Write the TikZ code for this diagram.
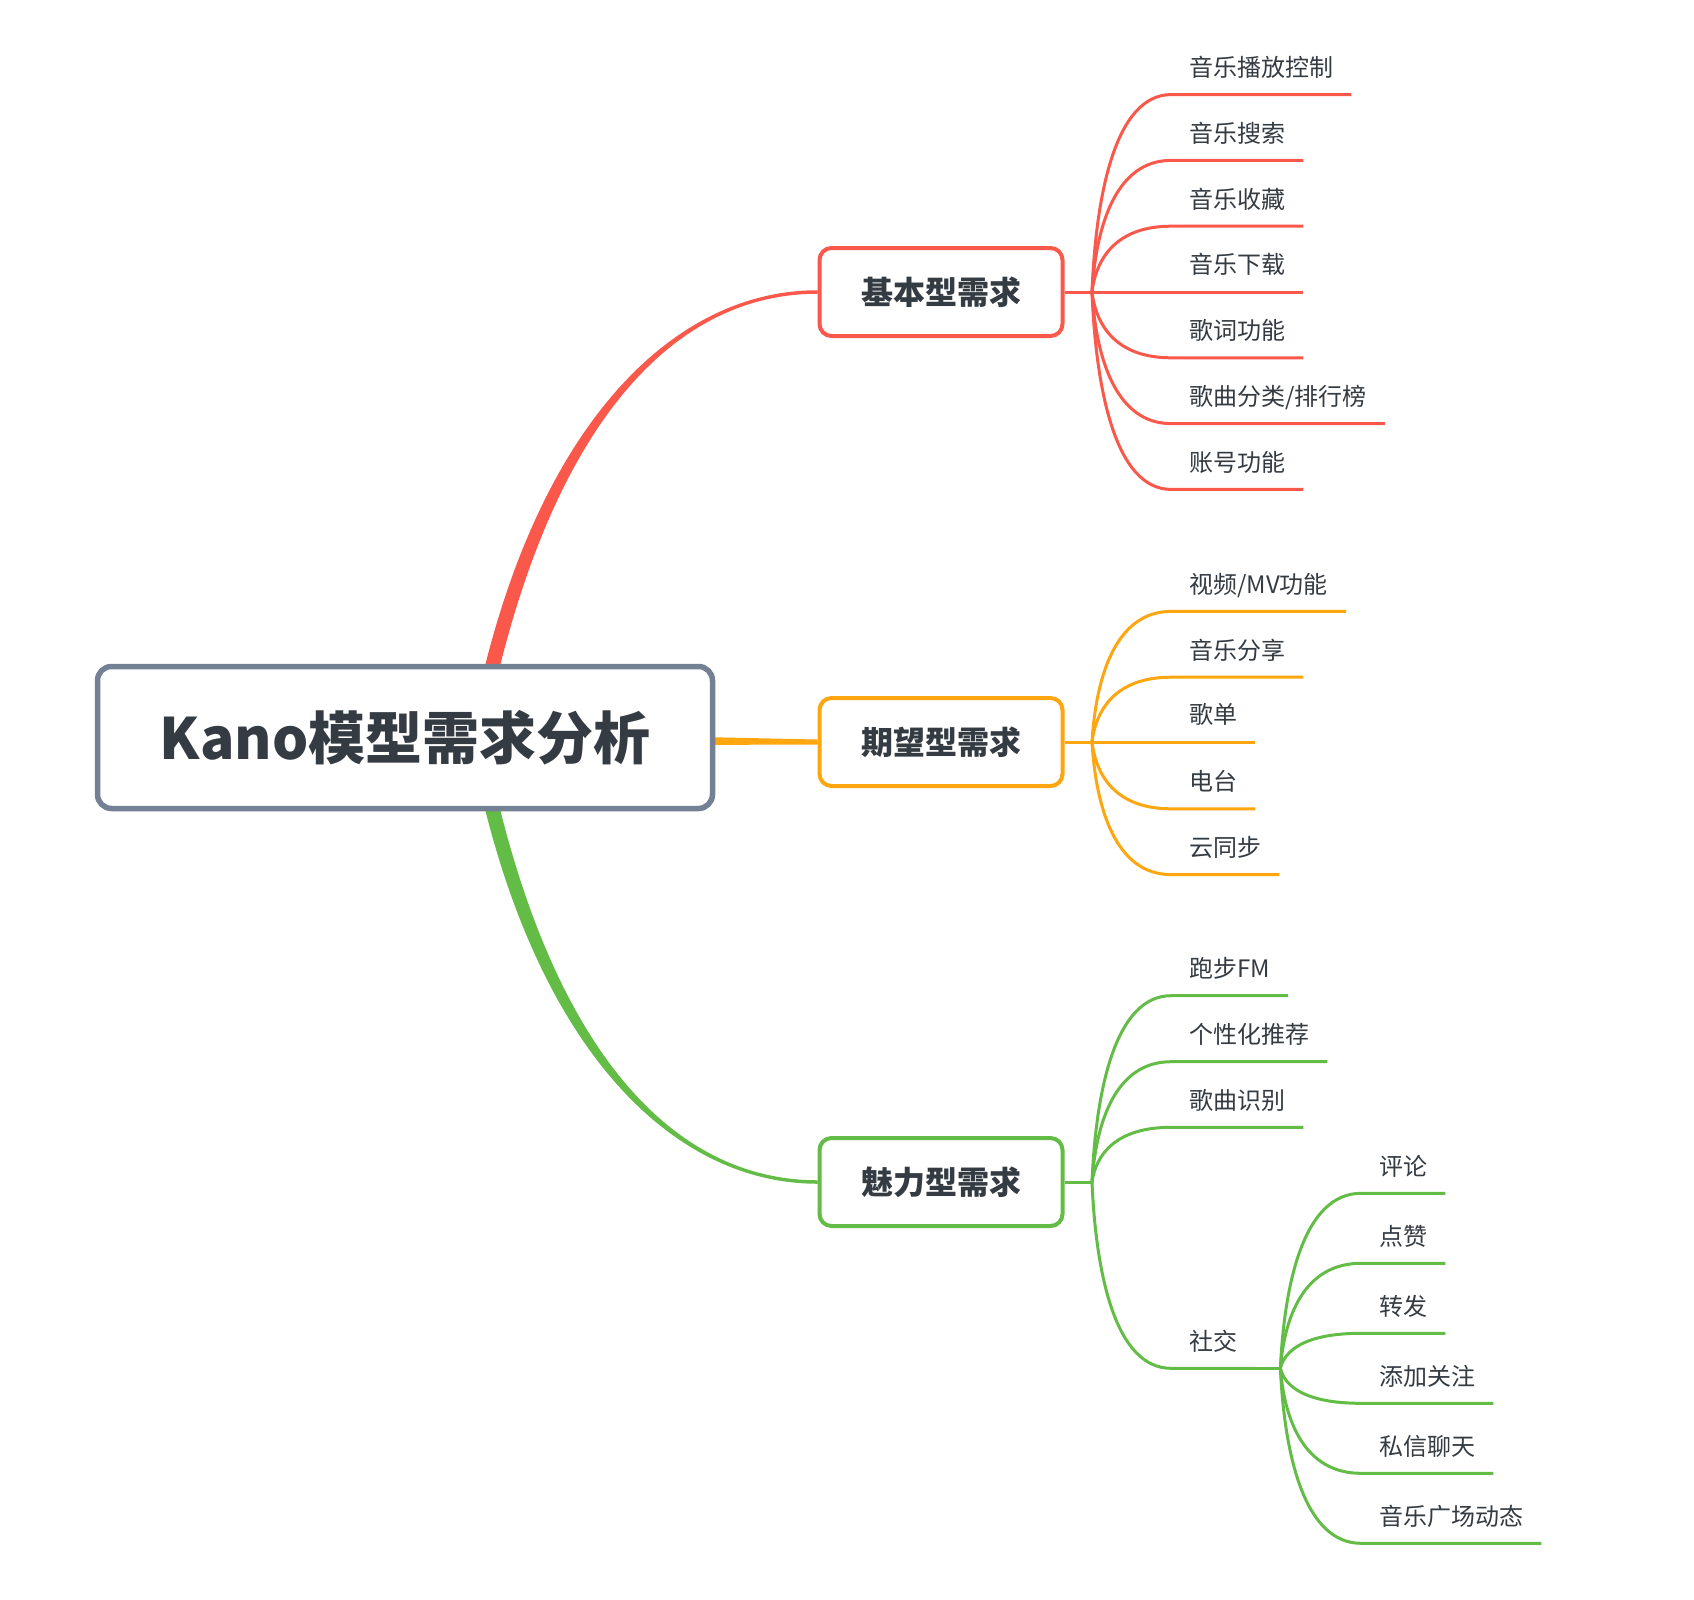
\documentclass[tikz,border=0pt]{standalone}
\usepackage{fontspec}
\setmainfont{Noto Sans CJK SC}
\usetikzlibrary{calc,backgrounds}
\definecolor{cred}{HTML}{FA584B}
\definecolor{corange}{HTML}{FDA60F}
\definecolor{cgreen}{HTML}{62BC46}
\definecolor{cgray}{HTML}{748093}
\definecolor{ctext}{HTML}{343B42}
\tikzset{
  rootbox/.style={draw=cgray, line width=5.5pt, fill=white, rounded corners=14pt,
    minimum width=615pt, minimum height=142pt, text=ctext,
    font=\fontsize{57}{60}\selectfont\bfseries, inner sep=0pt},
  topicbox/.style={line width=4pt, fill=white, rounded corners=12pt,
    minimum width=243pt, minimum height=88pt, text=ctext,
    font=\fontsize{32}{34}\selectfont\bfseries, inner sep=0pt},
  leaf/.style={anchor=south west, inner xsep=18pt, inner ysep=18pt,
    text height=18pt, text depth=0pt, text=ctext, font=\fontsize{24}{26}\selectfont},
  twigline/.style={line width=3pt},
  twig/.style={to path={let \p1=(\tikztostart), \p2=(\tikztotarget) in
    .. controls ({\x1+0.05*(\x2-\x1)},{\y1+0.5*(\y2-\y1)}) and ({\x1+0.3*(\x2-\x1)},{\y2}) .. (\tikztotarget)}},
}
\begin{document}
\begin{tikzpicture}[x=1pt,y=-1pt]
\path[use as bounding box] (0,0) rectangle (1694,1600);

% main nodes
\node[rootbox] (root) at (405,737.5) {Kano模型需求分析};
\node[topicbox, draw=cred] (basic) at (941,292) {基本型需求};
\node[topicbox, draw=corange] (expect) at (941,742) {期望型需求};
\node[topicbox, draw=cgreen] (charm) at (941,1182) {魅力型需求};

\begin{pgfonlayer}{background}
\fill[white] (0,0) rectangle (1694,1600);
% red tapered connector
\coordinate (r0) at (492,668);
\coordinate (r1) at (555,415);
\coordinate (r2) at (678,292);
\fill[cred] ($(r0)+(-7.5,0)$) .. controls ($(r1)+(-7.5,0)$) and ($(r2)+(0,-1.75)$) .. ($(basic.west)+(0,-1.75)$)
  -- ($(basic.west)+(0,1.75)$) .. controls ($(r2)+(0,1.75)$) and ($(r1)+(7.5,0)$) .. ($(r0)+(7.5,0)$) -- cycle;
% green tapered connector
\coordinate (g0) at (492,807);
\coordinate (g1) at (555,1060);
\coordinate (g2) at (678,1182);
\fill[cgreen] ($(g0)+(-7.5,0)$) .. controls ($(g1)+(-7.5,0)$) and ($(g2)+(0,1.75)$) .. ($(charm.west)+(0,1.75)$)
  -- ($(charm.west)+(0,-1.75)$) .. controls ($(g2)+(0,-1.75)$) and ($(g1)+(7.5,0)$) .. ($(g0)+(7.5,0)$) -- cycle;
% orange tapered connector
\coordinate (o0) at (705,741);
\fill[corange] ($(o0)+(0,-3.9)$) -- ($(expect.west)+(0,-2.5)$)
  -- ($(expect.west)+(0,2.5)$) -- ($(o0)+(0,3.9)$) -- cycle;
\end{pgfonlayer}

% branch points
\coordinate (bb) at ($(basic.east)+(27.5,0)$);
\coordinate (eb) at ($(expect.east)+(27.5,0)$);
\coordinate (cb) at ($(charm.east)+(27.5,0)$);
\draw[cred, twigline] (basic.east) -- (bb);
\draw[corange, twigline] (expect.east) -- (eb);
\draw[cgreen, twigline] (charm.east) -- (cb);

% basic children
\foreach \nm/\tx/\yy in {b1/{音乐播放控制}/94.6, b2/{音乐搜索}/160.4, b3/{音乐收藏}/226.2, b4/{音乐下载}/292,
    b5/{歌词功能}/357.8, b6/{歌曲分类/排行榜}/423.6, b7/{账号功能}/489.4}{
  \node[leaf] (\nm) at (1171,\yy) {\tx};
  \draw[cred, twigline] (bb) to[twig] (\nm.south west) -- (\nm.south east);
}

% expectation children
\foreach \nm/\tx/\yy in {e1/{视频/MV功能}/611.4, e2/{音乐分享}/677.2, e3/{歌单}/742, e4/{电台}/808.8, e5/{云同步}/874.6}{
  \node[leaf] (\nm) at (1171,\yy) {\tx};
  \draw[corange, twigline] (eb) to[twig] (\nm.south west) -- (\nm.south east);
}

% charm children
\foreach \nm/\tx/\yy in {c1/{跑步FM}/995.7, c2/{个性化推荐}/1061.7, c3/{歌曲识别}/1127.3, c4/{社交}/1368.3}{
  \node[leaf] (\nm) at (1171,\yy) {\tx};
  \draw[cgreen, twigline] (cb) to[twig] (\nm.south west) -- (\nm.south east);
}

% social sub-branch
\coordinate (sb) at ($(c4.south east)+(25,0)$);
\draw[cgreen, twigline] (c4.south east) -- (sb);
\foreach \nm/\tx/\yy in {s1/{评论}/1193.3, s2/{点赞}/1263.3, s3/{转发}/1333.3, s4/{添加关注}/1403.3,
    s5/{私信聊天}/1473.3, s6/{音乐广场动态}/1543.3}{
  \node[leaf] (\nm) at (1361,\yy) {\tx};
  \draw[cgreen, twigline] (sb) to[twig] (\nm.south west) -- (\nm.south east);
}
\end{tikzpicture}
\end{document}
